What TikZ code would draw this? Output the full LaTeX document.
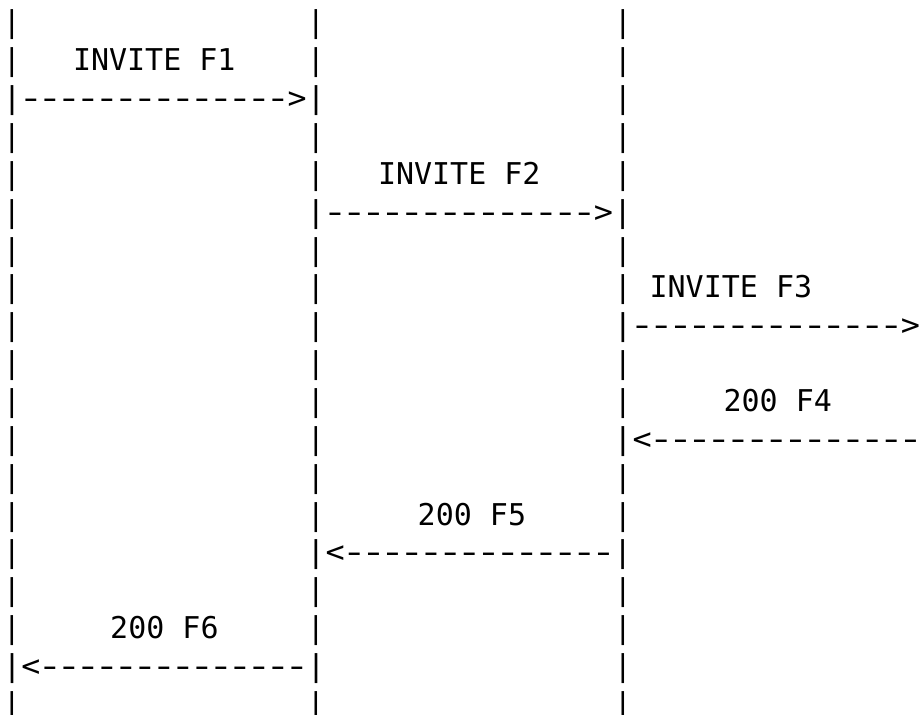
\documentclass[tikz,border=0pt]{standalone}
\usepackage{graphicx}
\usepackage{fontspec}
\setmonofont{DejaVu Sans Mono}
\newcommand\dashrun[1]{\foreach\k in {1,...,#1}{\makebox[0.60205em][c]{\scalebox{1.35}[1]{-}}}}
\begin{document}
\begin{tikzpicture}[x=0.75pt,y=-0.75pt,
  ascii/.style={inner sep=0pt,outer sep=0pt,font=\ttfamily\fontsize{22.5}{27}\selectfont,text=black},
  bar/.style={ascii,anchor=base},
  msg/.style={ascii,anchor=base west},
  lbl/.style={ascii,anchor=base west}]
\useasboundingbox (0,0) rectangle (920,714);
\fill[white] (0,0) rectangle (920,714);
\clip (0,0) rectangle (920,714);
% lifeline bars on rows without a message arrow
\foreach \r in {0,1,3,4,6,7,9,10,12,13,15,16,18}{
  \foreach \l/\x in {1/12,2/316,3/623}{
    \node[bar] (b-\r-\l) at (\x,{32.8+37.87*\r}) {|};
  }
}
% lifeline bars on arrow rows that the arrow text does not include
\node[bar] (b-2-3) at (623,{32.8+37.87*2}) {|};
\node[bar] (b-5-1) at (12,{32.8+37.87*5}) {|};
\node[bar] (b-8-1) at (12,{32.8+37.87*8}) {|};
\node[bar] (b-8-2) at (316,{32.8+37.87*8}) {|};
\node[bar] (b-11-1) at (12,{32.8+37.87*11}) {|};
\node[bar] (b-11-2) at (316,{32.8+37.87*11}) {|};
\node[bar] (b-14-1) at (12,{32.8+37.87*14}) {|};
\node[bar] (b-17-3) at (623,{32.8+37.87*17}) {|};
% message labels
\node[lbl] (l1) at (73,{32.8+37.87*1}) {INVITE F1};
\node[lbl] (l2) at (378,{32.8+37.87*4}) {INVITE F2};
\node[lbl] (l3) at (649.6,{32.8+37.87*7}) {INVITE F3};
\node[lbl] (l4) at (723.5,{32.8+37.87*10}) {200 F4};
\node[lbl] (l5) at (417.7,{32.8+37.87*13}) {200 F5};
\node[lbl] (l6) at (110.2,{32.8+37.87*16}) {200 F6};
% message arrows (with the lifeline bars they touch)
\node[msg] (m1) at (2.5,{32.8+37.87*2}) {\scalebox{1.052}[1]{|\dashrun{14}>|}};
\node[msg] (m2) at (306.4,{32.8+37.87*5}) {\scalebox{1.0615}[1]{|\dashrun{14}>|}};
\node[msg] (m3) at (613.4,{32.8+37.87*8}) {\scalebox{1.0615}[1]{|\dashrun{14}>}};
\node[msg] (m4) at (613.4,{32.8+37.87*11}) {\scalebox{1.0615}[1]{|<\dashrun{14}}};
\node[msg] (m5) at (306.4,{32.8+37.87*14}) {\scalebox{1.0615}[1]{|<\dashrun{14}|}};
\node[msg] (m6) at (2.5,{32.8+37.87*17}) {\scalebox{1.052}[1]{|<\dashrun{14}|}};
\end{tikzpicture}
\end{document}
